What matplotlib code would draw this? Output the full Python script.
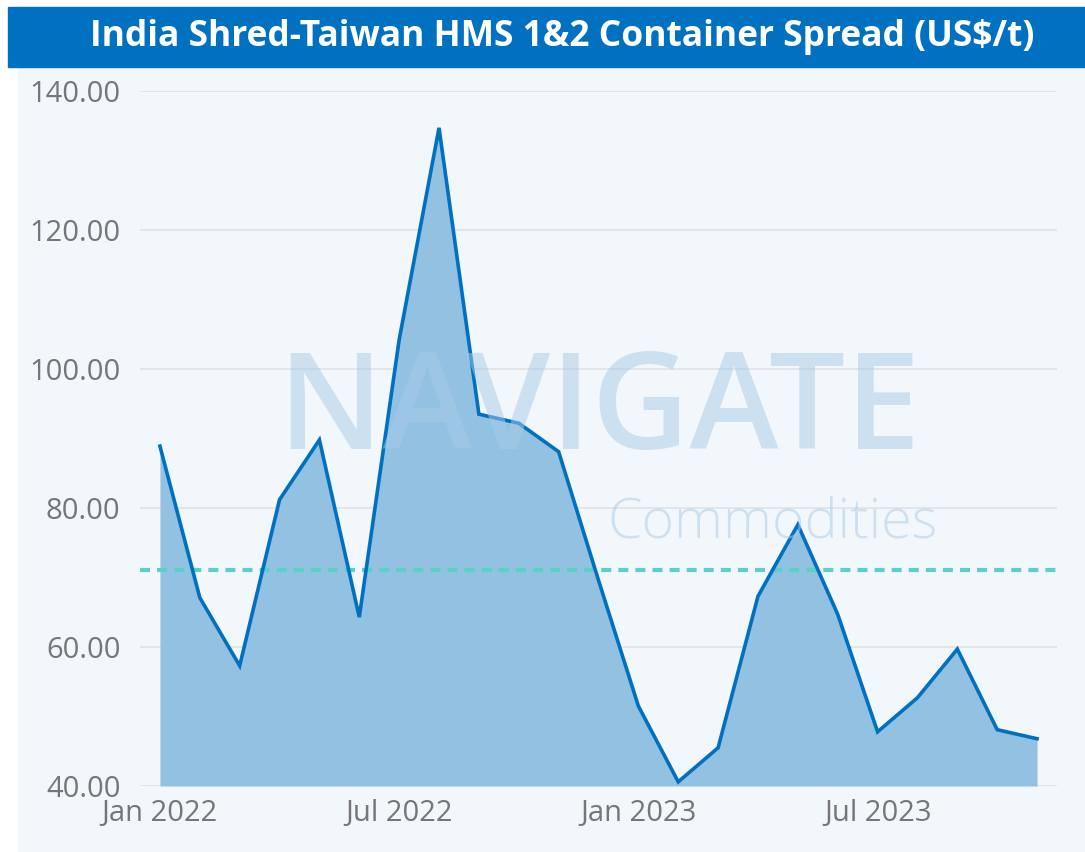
import matplotlib
matplotlib.use("Agg")
import matplotlib.pyplot as plt
from matplotlib.patches import Rectangle
import numpy as np

# monthly spread, Jan 2022 - Nov 2023 (US$/t)
months = ["Jan 2022", "Feb 2022", "Mar 2022", "Apr 2022", "May 2022", "Jun 2022",
          "Jul 2022", "Aug 2022", "Sep 2022", "Oct 2022", "Nov 2022", "Dec 2022",
          "Jan 2023", "Feb 2023", "Mar 2023", "Apr 2023", "May 2023", "Jun 2023",
          "Jul 2023", "Aug 2023", "Sep 2023", "Oct 2023", "Nov 2023"]
spread = [88.9, 67.1, 57.3, 81.2, 89.8, 64.3, 104.2, 134.7, 93.5, 92.2, 88.1, 69.6,
          51.5, 40.6, 45.5, 67.3, 77.6, 64.7, 47.8, 52.7, 59.7, 48.1, 46.8]
tick_labels = ["Jan 2022", "Jul 2022", "Jan 2023", "Jul 2023"]
y_ticks = [40, 60, 80, 100, 120, 140]

x = np.arange(len(spread))
avg = np.mean(spread)

fig = plt.figure(figsize=(10.85, 8.52), dpi=100)
fig.patch.set_facecolor("white")

# panel background and title bar
fig.add_artist(Rectangle((18 / 1085, 0), 1 - 18 / 1085, 1 - 67 / 852,
                         transform=fig.transFigure, color="#f2f7fc", zorder=-10))
fig.add_artist(Rectangle((8 / 1085, 1 - 67 / 852), 1 - 8 / 1085, 60 / 852,
                         transform=fig.transFigure, color="#0070c0", zorder=-10))
fig.text(0.518, 1 - 37 / 852, "India Shred-Taiwan HMS 1&2 Container Spread (US$/t)",
         color="white", fontsize=25.5, fontweight="bold", family="Open Sans",
         ha="center", va="center")

ax = fig.add_axes([140 / 1085, 66 / 852, 917 / 1085, 695 / 852])
ax.set_facecolor("none")

ax.fill_between(x, spread, 40, color="#92c1e2", lw=0, zorder=2)
ax.plot(x, spread, color="#0070c0", lw=2.6, zorder=4, solid_joinstyle="miter")
ax.axhline(avg, color="#5ccfc6", lw=3, ls=(0, (2.4, 1.7)), zorder=3)

# watermark
ax.text(0.5, 0.535, "NAVIGATE", transform=ax.transAxes, ha="center", va="center",
        fontsize=97, family="Open Sans", fontweight="semibold", color="#a9cbe6",
        alpha=0.5, zorder=5)
ax.text(0.69, 0.378, "Commodities", transform=ax.transAxes, ha="center", va="center",
        fontsize=40, family="Open Sans", fontweight="light", color="#a9cbe6",
        alpha=0.5, zorder=5)

ax.set_xlim(-0.5, len(spread) - 0.5)
ax.set_ylim(40, 140)
ax.set_yticks(y_ticks)
ax.set_yticklabels([f"{v:.2f}" for v in y_ticks])
ax.set_xticks([months.index(m) for m in tick_labels])
ax.set_xticklabels(tick_labels)
ax.tick_params(axis="both", length=0, labelsize=21, labelcolor="#767676")
ax.tick_params(axis="y", pad=14)
ax.tick_params(axis="x", pad=9)
for lab in ax.get_xticklabels() + ax.get_yticklabels():
    lab.set_family("Open Sans")

ax.grid(axis="y", color="#e2e4e6", lw=1.3, zorder=1)
ax.set_axisbelow(True)
for s in ax.spines.values():
    s.set_visible(False)

fig.savefig("out.png", dpi=100, facecolor=fig.get_facecolor())
